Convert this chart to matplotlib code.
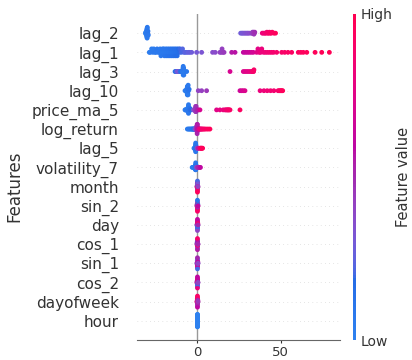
import numpy as np
import matplotlib
matplotlib.use("Agg")
import matplotlib.pyplot as plt
from matplotlib.colors import ListedColormap

features = ["lag_2", "lag_1", "lag_3", "lag_10", "price_ma_5", "log_return",
            "lag_5", "volatility_7", "month", "sin_2", "day", "cos_1",
            "sin_1", "cos_2", "dayofweek", "hour"]

# shap values and scaled feature values (0 = low, 1 = high)
lag_2_shap = [-31.3, -31.1, -31.0, -30.9, -30.8, -30.7, -30.6, -30.6, -30.5, -30.5,
              -30.4, -30.4, -30.3, -30.3, -30.2, -30.1, -30.0, -29.9, -29.8, -29.6,
              26.0, 26.8, 27.5, 28.3, 29.0, 29.8, 30.5, 31.3, 32.5, 33.0,
              33.2, 33.5, 33.7, 34.0, 34.2, 34.5,
              39.0, 39.8, 40.6, 41.2, 41.8, 42.3, 42.8, 43.3, 43.8, 44.4, 45.0, 46.0, 47.0]
lag_2_val = [0.02, 0.04, 0.03, 0.05, 0.04, 0.06, 0.03, 0.05, 0.07, 0.04,
             0.06, 0.05, 0.08, 0.06, 0.07, 0.09, 0.05, 0.08, 0.10, 0.07,
             0.28, 0.30, 0.31, 0.32, 0.33, 0.34, 0.35, 0.36, 0.38, 0.40,
             0.42, 0.43, 0.44, 0.45, 0.46, 0.48,
             0.80, 0.82, 0.84, 0.85, 0.86, 0.87, 0.88, 0.89, 0.90, 0.91, 0.92, 0.93, 0.95]

lag_1_shap = [-29.0, -28.4, -27.6, -26.9, -26.3, -25.6, -25.0, -24.3, -23.6, -23.0,
              -22.5, -22.0, -21.5, -21.0, -20.6, -20.3, -19.9, -19.5, -19.1, -18.8,
              -18.4, -18.0, -17.7, -17.3, -16.9, -16.6, -16.2, -15.8, -15.5, -15.1,
              -14.7, -14.4, -14.0, -13.6, -13.3, -12.9, -12.5, -12.2, -11.8, -11.4,
              -11.0, -10.5, -9.8, -9.0, -8.2, -7.4, -6.5, -5.5, -4.6,
              -3.5, -0.5, 2.5, 9.1, 10.7, 13.5, 14.3, 14.8, 15.3, 16.0,
              20.6, 22.6, 27.6, 28.8, 30.0, 31.2, 32.4, 33.6, 35.6, 36.4,
              37.2, 38.0, 38.7, 39.8, 41.0, 42.2, 43.4, 44.6, 45.8, 47.7,
              50.7, 52.5, 54.5, 56.7, 60.7, 62.2, 63.7, 65.8, 70.8, 74.8, 79.4]
lag_1_val = [0.03, 0.05, 0.04, 0.06, 0.05, 0.07, 0.06, 0.08, 0.05, 0.07,
             0.06, 0.08, 0.07, 0.09, 0.06, 0.08, 0.10, 0.07, 0.09, 0.11,
             0.08, 0.10, 0.12, 0.09, 0.11, 0.13, 0.10, 0.12, 0.14, 0.11,
             0.13, 0.15, 0.12, 0.14, 0.16, 0.13, 0.15, 0.17, 0.14, 0.18,
             0.16, 0.19, 0.20, 0.22, 0.21, 0.24, 0.23, 0.26, 0.25,
             0.28, 0.30, 0.32, 0.36, 0.37, 0.40, 0.41, 0.42, 0.43, 0.44,
             0.55, 0.58, 0.60, 0.62, 0.63, 0.64, 0.66, 0.68, 0.74, 0.76,
             0.78, 0.80, 0.81, 0.82, 0.83, 0.84, 0.85, 0.86, 0.87, 0.88,
             0.89, 0.90, 0.91, 0.92, 0.93, 0.93, 0.94, 0.95, 0.96, 0.97, 0.98]

lag_3_shap = [-13.5, -13.0, -12.5, -12.0, -11.5, -11.0, -10.5, -10.2,
              -9.0, -8.9, -8.8, -8.7, -8.7, -8.6, -8.6, -8.5, -8.5, -8.4, -8.3, -8.2,
              -7.5, -6.5,
              19.6, 27.6, 28.6, 29.6, 30.6, 31.6, 32.6, 33.0, 33.4, 33.8, 34.0]
lag_3_val = [0.12, 0.18, 0.25, 0.30, 0.32, 0.28, 0.22, 0.15,
             0.04, 0.06, 0.03, 0.05, 0.07, 0.04, 0.06, 0.05, 0.08, 0.03, 0.06, 0.07,
             0.05, 0.08,
             0.70, 0.72, 0.74, 0.75, 0.76, 0.78, 0.82, 0.84, 0.86, 0.88, 0.90]

lag_10_shap = [-7.5, -7.0, -6.6, -6.4, -6.3, -6.2, -6.2, -6.1, -6.1, -6.0,
               -6.0, -5.9, -5.9, -5.8, -5.8, -5.7, -5.6, -5.4, -5.0,
               0.5, 2.5, 5.5,
               25.6, 26.6, 27.6, 28.6,
               37.7, 40.0, 42.0, 44.0, 46.0, 48.5, 49.2, 49.8, 50.3, 50.8, 51.3]
lag_10_val = [0.03, 0.05, 0.04, 0.06, 0.05, 0.07, 0.04, 0.06, 0.08, 0.05,
              0.07, 0.04, 0.09, 0.06, 0.08, 0.05, 0.07, 0.10, 0.12,
              0.40, 0.42, 0.45,
              0.66, 0.68, 0.70, 0.72,
              0.80, 0.82, 0.84, 0.85, 0.86, 0.88, 0.89, 0.90, 0.92, 0.93, 0.95]

price_ma_5_shap = [-7.5, -7.2, -6.9, -6.6, -6.3, -6.0, -5.8, -5.7, -5.6, -5.6,
                   -5.5, -5.5, -5.4, -5.4, -5.3, -5.3, -5.2, -5.0, -4.7, -4.3, -4.0,
                   -2.5, -2.0, -1.6, -1.3, -1.2, -1.1, -1.1, -1.0, -1.0, -0.9,
                   -0.8, -0.5, 0.0, 0.5,
                   1.5, 11.5, 13.5, 15.5, 16.6, 17.2, 17.8, 18.2, 18.6, 19.0, 19.6, 25.6]
price_ma_5_val = [0.03, 0.05, 0.04, 0.06, 0.05, 0.07, 0.04, 0.06, 0.08, 0.05,
                  0.07, 0.04, 0.09, 0.06, 0.08, 0.05, 0.07, 0.10, 0.12, 0.15, 0.18,
                  0.30, 0.35, 0.38, 0.40, 0.42, 0.44, 0.41, 0.45, 0.43, 0.46,
                  0.47, 0.48, 0.50, 0.55,
                  0.70, 0.75, 0.78, 0.80, 0.82, 0.84, 0.85, 0.86, 0.87, 0.88, 0.90, 0.92]

log_return_shap = [-6.1, -5.5, -5.0, -4.5, -4.0, -3.6, -3.2, -2.9, -2.6, -2.3,
                   -2.1, -1.9, -1.7, -1.5,
                   -1.3, -1.1, -0.9, -0.7, -0.6, -0.5, -0.4, -0.35, -0.3, -0.3,
                   -0.25, -0.2, -0.2, -0.15, -0.1, -0.1, -0.05, 0.0, 0.1, 0.3,
                   0.5, 0.7, 0.9,
                   1.1, 1.4, 1.7, 2.0, 2.4, 2.8, 3.3, 3.9, 4.6, 5.5, 6.5, 7.5]
log_return_val = [0.03, 0.05, 0.06, 0.08, 0.07, 0.10, 0.09, 0.12, 0.11, 0.14,
                  0.15, 0.18, 0.20, 0.22,
                  0.30, 0.35, 0.38, 0.40, 0.42, 0.44, 0.45, 0.46, 0.47, 0.48,
                  0.49, 0.50, 0.51, 0.52, 0.53, 0.54, 0.55, 0.56, 0.58, 0.60,
                  0.62, 0.65, 0.68,
                  0.75, 0.78, 0.80, 0.82, 0.84, 0.86, 0.88, 0.89, 0.90, 0.92, 0.94, 0.95]

lag_5_shap = [-2.1, -1.8, -1.6, -1.4, -1.3, -1.2, -1.2, -1.2, -1.1, -1.1,
              -1.1, -1.1, -1.1, -1.1, -1.0, -1.0, -1.0, -1.0, -0.9, -0.9,
              -0.8, -0.6, -0.4, -0.2, 0.0, 0.3, 0.5,
              1.5, 1.8, 2.1, 2.4, 2.7, 3.1]
lag_5_val = [0.03, 0.05, 0.04, 0.06, 0.05, 0.07, 0.04, 0.06, 0.08, 0.05,
             0.07, 0.04, 0.09, 0.06, 0.08, 0.05, 0.07, 0.10, 0.12, 0.09,
             0.14, 0.18, 0.22, 0.30, 0.38, 0.45, 0.55,
             0.85, 0.88, 0.90, 0.92, 0.94, 0.96]

volatility_7_shap = [-3.2, -2.7, -2.3, -2.0, -1.7, -1.5, -1.3, -1.2, -1.2, -1.2,
                     -1.1, -1.1, -1.1, -1.1, -1.0, -1.0, -1.0, -0.9, -0.9, -0.7,
                     -0.5, -0.2, 0.1, 0.3, 0.6, 0.9, 1.3, 1.8]
volatility_7_val = [0.03, 0.05, 0.04, 0.06, 0.05, 0.07, 0.04, 0.06, 0.08, 0.05,
                    0.07, 0.04, 0.09, 0.06, 0.08, 0.05, 0.07, 0.10, 0.12, 0.25,
                    0.35, 0.40, 0.45, 0.48, 0.50, 0.52, 0.55, 0.60]

month_shap = [-0.3, -0.2, -0.1, -0.1, -0.1, -0.1, 0.0, 0.0, 0.0, 0.0,
              0.0, 0.0, 0.0, 0.0, 0.0, 0.1, 0.1, 0.1, 0.1, 0.2, 0.3]
month_val = [0.85, 0.20, 0.90, 0.10, 0.50, 0.95, 0.15, 0.88, 0.45, 0.92,
             0.10, 0.60, 0.85, 0.20, 0.95, 0.50, 0.10, 0.90, 0.30, 0.80, 0.40]

sin_2_shap = [-0.3, -0.2, -0.2, -0.1, -0.1, -0.1, 0.0, 0.0, 0.0, 0.0,
              0.0, 0.0, 0.0, 0.0, 0.0, 0.1, 0.1, 0.1, 0.2, 0.2, 0.3]
sin_2_val = [0.90, 0.10, 0.85, 0.50, 0.20, 0.90, 0.10, 0.50, 0.90, 0.15,
             0.95, 0.40, 0.85, 0.10, 0.90, 0.20, 0.95, 0.50, 0.85, 0.10, 0.60]

day_shap = [-0.3, -0.2, -0.1, -0.1, -0.1, 0.0, 0.0, 0.0, 0.0, 0.0,
            0.0, 0.0, 0.0, 0.0, 0.1, 0.1, 0.1, 0.1, 0.2, 0.2, 0.3]
day_val = [0.50, 0.10, 0.60, 0.85, 0.15, 0.70, 0.10, 0.55, 0.90, 0.45,
           0.85, 0.15, 0.60, 0.40, 0.90, 0.50, 0.10, 0.60, 0.30, 0.90, 0.50]

cos_1_shap = [-0.3, -0.2, -0.2, -0.1, -0.1, -0.1, -0.1, 0.0, 0.0, 0.0,
              0.0, 0.0, 0.0, 0.0, 0.0, 0.0, 0.1, 0.1, 0.1, 0.2, 0.3]
cos_1_val = [0.40, 0.90, 0.10, 0.50, 0.85, 0.20, 0.60, 0.90, 0.45, 0.85,
             0.15, 0.90, 0.50, 0.30, 0.90, 0.55, 0.10, 0.60, 0.85, 0.40, 0.50]

sin_1_shap = [-0.3, -0.2, -0.1, -0.1, -0.1, -0.1, 0.0, 0.0, 0.0, 0.0,
              0.0, 0.0, 0.0, 0.0, 0.0, 0.1, 0.1, 0.1, 0.2, 0.2, 0.3]
sin_1_val = [0.50, 0.20, 0.85, 0.40, 0.60, 0.15, 0.55, 0.45, 0.60, 0.40,
             0.90, 0.30, 0.65, 0.50, 0.20, 0.85, 0.45, 0.55, 0.30, 0.60, 0.40]

cos_2_shap = [-0.3, -0.2, -0.2, -0.1, -0.1, -0.1, 0.0, 0.0, 0.0, 0.0,
              0.0, 0.0, 0.0, 0.0, 0.0, 0.1, 0.1, 0.1, 0.1, 0.2, 0.3]
cos_2_val = [0.60, 0.85, 0.20, 0.50, 0.90, 0.30, 0.90, 0.50, 0.20, 0.85,
             0.45, 0.90, 0.10, 0.60, 0.80, 0.40, 0.90, 0.20, 0.60, 0.50, 0.40]

dayofweek_shap = [-0.3, -0.2, -0.1, -0.1, -0.1, -0.1, 0.0, 0.0, 0.0, 0.0,
                  0.0, 0.0, 0.0, 0.0, 0.0, 0.1, 0.1, 0.1, 0.2, 0.2, 0.3]
dayofweek_val = [0.90, 0.50, 0.85, 0.45, 0.95, 0.60, 0.50, 0.90, 0.40, 0.85,
                 0.55, 0.95, 0.45, 0.90, 0.60, 0.40, 0.90, 0.50, 0.85, 0.50, 0.45]

hour_shap = [0.0] * 30
hour_val = [0.0] * 30

shap_lists = [lag_2_shap, lag_1_shap, lag_3_shap, lag_10_shap, price_ma_5_shap,
              log_return_shap, lag_5_shap, volatility_7_shap, month_shap, sin_2_shap,
              day_shap, cos_1_shap, sin_1_shap, cos_2_shap, dayofweek_shap, hour_shap]
val_lists = [lag_2_val, lag_1_val, lag_3_val, lag_10_val, price_ma_5_val,
             log_return_val, lag_5_val, volatility_7_val, month_val, sin_2_val,
             day_val, cos_1_val, sin_1_val, cos_2_val, dayofweek_val, hour_val]

for name, a, b in zip(features, shap_lists, val_lists):
    if len(a) != len(b):
        raise ValueError("length mismatch in %s: %d vs %d" % (name, len(a), len(b)))


# shap style red-blue colormap (lch blend, darker in the middle)
def lab_to_rgb(L, a, b):
    fy = (L + 16) / 116.0
    fx = fy + a / 500.0
    fz = fy - b / 200.0
    finv = lambda t: np.where(t > 6 / 29, t ** 3, 3 * (6 / 29) ** 2 * (t - 4 / 29))
    X = 0.95047 * finv(fx)
    Y = finv(fy)
    Z = 1.08883 * finv(fz)
    r = 3.2406 * X - 1.5372 * Y - 0.4986 * Z
    g = -0.9689 * X + 1.8758 * Y + 0.0415 * Z
    bl = 0.0557 * X - 0.2040 * Y + 1.0570 * Z
    rgb = np.clip(np.stack([r, g, bl], axis=-1), 0, 1)
    rgb = np.where(rgb > 0.0031308, 1.055 * rgb ** (1 / 2.4) - 0.055, 12.92 * rgb)
    return np.clip(rgb, 0, 1)


steps = 100
L = np.concatenate([np.linspace(54, 40, steps // 2), np.linspace(40, 54, steps // 2)])
C = np.linspace(70, 90, steps)
H = np.linspace(4.6588, 0.35470565 + 2 * np.pi, steps)
rgb = lab_to_rgb(L, C * np.cos(H), C * np.sin(H))
# the blue end looks a little softer in the reference
w = 0.2 * np.linspace(1, 0, steps)[:, None]
rgb = (1 - w) * rgb + w * np.array([0.9, 0.35, 0.75])
red_blue = ListedColormap(rgb)


def swarm_offsets(x, row_height=0.4, nbins=100):
    x = np.asarray(x, float)
    quant = np.round(nbins * (x - x.min()) / (x.max() - x.min() + 1e-8))
    order = np.argsort(quant, kind="stable")
    ys = np.zeros(len(x))
    layer, last = 0, None
    for i in order:
        if quant[i] != last:
            layer = 0
        ys[i] = np.ceil(layer / 2) * ((layer % 2) * 2 - 1)
        layer += 1
        last = quant[i]
    ys *= 0.9 * (row_height / np.max(ys + 1))
    return ys


fig = plt.figure(figsize=(4.12, 3.6), dpi=100)
ax = fig.add_axes([137 / 412, 20 / 360, 203 / 412, 326 / 360])

nf = len(features)
for i, (sv, fv) in enumerate(zip(shap_lists, val_lists)):
    pos = nf - 1 - i
    ax.axhline(pos, color="#cccccc", lw=0.5, dashes=(1, 5), zorder=-1)
    ax.scatter(sv, pos + swarm_offsets(sv), c=fv, cmap=red_blue, vmin=0, vmax=1,
               s=12, linewidths=0, zorder=3)
ax.axvline(0, color="#999999", lw=1, zorder=-1)

ax.set_ylim(-1, nf)
ax.set_xlim(-36.4, 85.8)
ax.set_yticks(range(nf))
ax.set_yticklabels(features[::-1], fontsize=11, color="#333333")
ax.set_xticks([0, 50])
ax.tick_params(axis="y", length=0, pad=13)
ax.tick_params(axis="x", labelsize=9.5, length=2.5, pad=1.5, color="#333333",
               labelcolor="#333333")
for side in ["top", "right", "left"]:
    ax.spines[side].set_visible(False)
ax.spines["bottom"].set_color("#666666")

fig.text(14.5 / 412, 1 - 186 / 360, "Features", rotation=90, ha="center", va="center",
         fontsize=12, color="#333333")

cax = fig.add_axes([352.5 / 412, 20 / 360, 3.5 / 412, 326 / 360])
sm = plt.cm.ScalarMappable(cmap=red_blue, norm=plt.Normalize(0, 1))
cb = fig.colorbar(sm, cax=cax, ticks=[0, 1])
cb.set_ticklabels(["Low", "High"])
cb.ax.tick_params(labelsize=10, length=0, pad=3, labelcolor="#333333")
cb.outline.set_visible(False)
cb.set_label("Feature value", size=10.5, labelpad=3, color="#333333")

fig.savefig("out.png", dpi=100)
